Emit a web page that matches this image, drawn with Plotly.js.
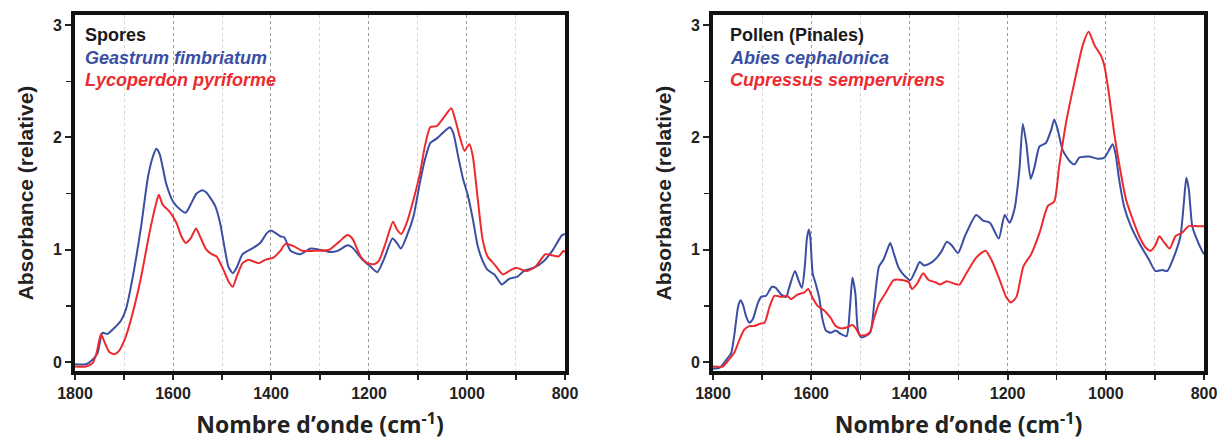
<!DOCTYPE html>
<html>
<head>
<meta charset="utf-8">
<script src="https://cdn.plot.ly/plotly-3.0.1.min.js"></script>
<style>html,body{margin:0;padding:0;background:#fff;}#chart{width:1218px;height:441px;}</style>
</head>
<body>
<div id="chart"></div>
<script>
// ---- Spores panel ----
const sporesTitle = "Spores";
const geastrumName = "Geastrum fimbriatum";
const geastrumWn = [1800,1778,1764,1754,1744,1734,1723,1706,1696,1682,1665,1651,1641,1634,1627,1614,1600,1586,1574,1562,1552,1540,1532,1514,1504,1494,1487,1478,1470,1458,1439,1422,1408,1400,1391,1381,1373,1360,1340,1319,1301,1281,1264,1244,1234,1213,1197,1183,1170,1152,1143,1135,1123,1109,1096,1086,1075,1065,1052,1042,1035,1028,1018,1008,998,988,978,968,958,944,929,914,897,884,863,843,826,806,800];
const geastrumAbs = [-0.02,-0.02,0.02,0.08,0.26,0.25,0.29,0.37,0.47,0.76,1.21,1.65,1.83,1.90,1.85,1.59,1.43,1.36,1.33,1.42,1.50,1.53,1.51,1.39,1.24,1.00,0.85,0.79,0.84,0.96,1.01,1.06,1.15,1.17,1.15,1.12,1.11,0.99,0.96,1.01,1.00,0.98,0.99,1.04,1.02,0.91,0.85,0.80,0.91,1.10,1.06,1.01,1.12,1.30,1.60,1.80,1.95,1.98,2.03,2.07,2.09,2.04,1.83,1.63,1.48,1.27,1.03,0.90,0.82,0.78,0.69,0.74,0.76,0.81,0.84,0.90,0.99,1.13,1.14];

const lycoperdonName = "Lycoperdon pyriforme";
const lycoperdonWn = [1800,1778,1764,1756,1747,1740,1730,1720,1710,1696,1682,1665,1648,1634,1629,1621,1607,1593,1583,1574,1564,1553,1545,1532,1521,1511,1497,1487,1478,1470,1458,1446,1425,1412,1395,1381,1371,1353,1336,1312,1301,1281,1261,1244,1234,1217,1203,1190,1180,1166,1151,1143,1134,1123,1109,1096,1086,1075,1062,1052,1042,1032,1024,1015,1005,999,995,988,978,968,958,944,927,914,900,887,877,860,840,826,813,803,800];
const lycoperdonAbs = [-0.04,-0.04,-0.01,0.08,0.25,0.18,0.09,0.07,0.10,0.23,0.44,0.76,1.15,1.42,1.49,1.40,1.34,1.24,1.12,1.06,1.10,1.19,1.12,1.00,0.96,0.94,0.82,0.72,0.67,0.76,0.88,0.91,0.88,0.91,0.93,0.99,1.05,1.03,0.99,0.99,0.99,1.00,1.07,1.13,1.10,0.94,0.88,0.87,0.90,1.06,1.25,1.18,1.14,1.24,1.45,1.68,1.92,2.09,2.10,2.15,2.21,2.26,2.16,2.01,1.88,1.92,1.94,1.83,1.45,1.09,0.94,0.87,0.78,0.81,0.84,0.82,0.81,0.85,0.96,0.95,0.94,0.99,0.98];

// ---- Pollen panel ----
const pollenTitle = "Pollen (Pinales)";
const abiesName = "Abies cephalonica";
const abiesWn = [1800,1786,1773,1763,1756,1749,1744,1739,1732,1726,1719,1709,1702,1692,1680,1672,1661,1651,1645,1633,1626,1619,1613,1609,1605,1602,1597,1591,1584,1577,1570,1560,1550,1540,1528,1521,1516,1510,1505,1498,1486,1479,1471,1462,1453,1445,1439,1432,1422,1408,1398,1388,1379,1370,1357,1344,1334,1324,1314,1301,1287,1264,1250,1236,1218,1206,1196,1186,1176,1169,1162,1153,1145,1135,1122,1111,1105,1098,1088,1074,1064,1054,1034,1017,1003,993,986,980,973,963,949,932,912,899,885,875,861,848,841,836,831,824,818,804,800];
const abiesAbs = [-0.06,-0.05,0.02,0.08,0.26,0.49,0.55,0.51,0.40,0.35,0.38,0.52,0.58,0.59,0.67,0.66,0.60,0.58,0.66,0.81,0.73,0.66,0.85,1.09,1.18,1.12,0.79,0.70,0.58,0.38,0.28,0.26,0.28,0.25,0.23,0.49,0.75,0.61,0.29,0.22,0.24,0.27,0.55,0.85,0.91,1.00,1.06,0.97,0.84,0.76,0.73,0.81,0.89,0.86,0.88,0.93,0.99,1.07,1.04,0.97,1.12,1.31,1.26,1.24,1.10,1.31,1.24,1.36,1.71,2.12,1.95,1.63,1.74,1.92,1.95,2.07,2.16,2.07,1.89,1.79,1.76,1.82,1.83,1.81,1.82,1.89,1.94,1.85,1.63,1.39,1.21,1.06,0.91,0.81,0.82,0.81,0.94,1.12,1.42,1.64,1.54,1.21,1.13,0.99,0.96];

const cupressusName = "Cupressus sempervirens";
const cupressusWn = [1800,1780,1766,1756,1746,1736,1726,1716,1705,1695,1685,1675,1661,1649,1641,1628,1614,1606,1597,1587,1574,1560,1550,1540,1526,1516,1509,1501,1489,1480,1472,1462,1449,1432,1415,1401,1395,1384,1372,1361,1347,1337,1324,1310,1298,1284,1264,1245,1233,1216,1203,1193,1182,1168,1152,1135,1118,1105,1095,1081,1064,1047,1035,1023,1010,1003,993,983,973,959,946,932,919,909,899,891,882,870,858,845,831,814,800];
const cupressusAbs = [-0.04,-0.04,0.03,0.09,0.20,0.29,0.32,0.32,0.34,0.35,0.49,0.59,0.58,0.59,0.56,0.60,0.62,0.65,0.57,0.50,0.46,0.39,0.32,0.30,0.31,0.33,0.30,0.24,0.24,0.27,0.39,0.52,0.61,0.73,0.73,0.71,0.65,0.70,0.79,0.73,0.71,0.69,0.72,0.70,0.69,0.79,0.93,0.99,0.91,0.73,0.58,0.53,0.58,0.85,0.96,1.15,1.39,1.43,1.74,2.13,2.49,2.82,2.94,2.82,2.73,2.64,2.37,2.04,1.77,1.45,1.28,1.12,1.02,0.99,1.04,1.12,1.07,1.01,1.12,1.15,1.21,1.21,1.21];

const xTickVals = [1800,1600,1400,1200,1000,800];
const xTickText = ["1800","1600","1400","1200","1000","800"];
const yTickVals = [0,1,2,3];
const xTitle = "Nombre d\u2019onde (cm<sup>-1</sup>)";
const yTitle = "Absorbance (relative)";

const BLUE = "#3a4ea3";
const RED = "#ec2a2f";

function line(x, y, color, xa, ya, name) {
  return {x: x, y: y, type: "scatter", mode: "lines", name: name, xaxis: xa, yaxis: ya,
    line: {color: color, width: 2, shape: "spline", smoothing: 0.6}, showlegend: false, hoverinfo: "skip"};
}

const data = [
  line(geastrumWn, geastrumAbs, BLUE, "x", "y", geastrumName),
  line(lycoperdonWn, lycoperdonAbs, RED, "x", "y", lycoperdonName),
  line(abiesWn, abiesAbs, BLUE, "x2", "y2", abiesName),
  line(cupressusWn, cupressusAbs, RED, "x2", "y2", cupressusName)
];

const tickFont = {family: "Liberation Sans, Arial, sans-serif", size: 16, color: "#222", weight: 700};
const xTitleFont = {family: "Open Sans, sans-serif", size: 23, color: "#222", weight: 700};
const yTitleFont = {family: "Liberation Sans, Arial, sans-serif", size: 21, color: "#222", weight: 700};

function xAxis(domain, anchor) {
  return {
    domain: domain, anchor: anchor, range: [1800, 800],
    tickmode: "array", tickvals: xTickVals, ticktext: xTickText,
    ticks: "outside", ticklen: 5, tickwidth: 2, tickcolor: "#222",
    showline: true, linewidth: 4, linecolor: "#111", mirror: true,
    showgrid: true, gridcolor: "#9a9a9a", griddash: "dot", gridwidth: 1,
    zeroline: false, tickfont: tickFont,
    minor: {dtick: 100, tick0: 800, ticks: "outside", ticklen: 5, tickwidth: 1.5, tickcolor: "#222",
            showgrid: true, gridcolor: "#d4d4d4", griddash: "dot", gridwidth: 1},
    title: {text: xTitle, font: xTitleFont, standoff: 17}
  };
}
function yAxis(anchor) {
  return {
    domain: [0, 1], anchor: anchor, range: [-0.08, 3.09],
    tickmode: "array", tickvals: yTickVals,
    ticks: "outside", ticklen: 6, tickwidth: 2, tickcolor: "#222",
    showline: true, linewidth: 4, linecolor: "#111", mirror: true,
    showgrid: false, zeroline: false, tickfont: tickFont,
    minor: {dtick: 0.5, tick0: 0, ticks: "outside", ticklen: 5, tickwidth: 1.5, tickcolor: "#222", showgrid: false},
    title: {text: yTitle, font: yTitleFont, standoff: 15}
  };
}

function legendText(xa, ya, lines) {
  const ys = [0.943, 0.880, 0.817];
  return lines.map((l, i) => ({
    xref: xa + " domain", yref: ya + " domain", x: l.x, y: ys[i], xanchor: "left", yanchor: "middle",
    showarrow: false, text: l.italic ? "<i>" + l.t + "</i>" : l.t,
    font: {family: "Liberation Sans, Arial, sans-serif", size: 18, color: l.c, weight: 700}
  }));
}

const layout = {
  width: 1218, height: 441,
  margin: {l: 75, r: 14, t: 15, b: 70},
  paper_bgcolor: "#fff", plot_bgcolor: "#fff",
  xaxis: xAxis([0, 0.434], "y"),
  yaxis: yAxis("x"),
  xaxis2: xAxis([0.5651, 1], "y2"),
  yaxis2: yAxis("x2"),
  annotations: [].concat(
    legendText("x", "y", [
      {t: sporesTitle, c: "#1a1a1a", italic: false, x: 0.016},
      {t: geastrumName, c: BLUE, italic: true, x: 0.016},
      {t: lycoperdonName, c: RED, italic: true, x: 0.016}
    ]),
    legendText("x2", "y2", [
      {t: pollenTitle, c: "#1a1a1a", italic: false, x: 0.03},
      {t: abiesName, c: BLUE, italic: true, x: 0.03},
      {t: cupressusName, c: RED, italic: true, x: 0.03}
    ])
  )
};

Plotly.newPlot("chart", data, layout, {staticPlot: true, displayModeBar: false});
</script>
</body>
</html>
